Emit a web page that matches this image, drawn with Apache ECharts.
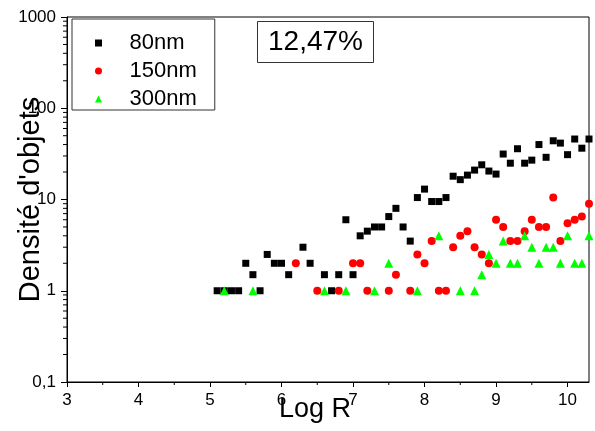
<!DOCTYPE html>
<html>
<head>
<meta charset="utf-8">
<script src="https://cdn.jsdelivr.net/npm/echarts@6/dist/echarts.min.js"></script>
<style>html,body{margin:0;padding:0;background:#fff}#c{width:595px;height:431px}</style>
</head>
<body>
<div id="c"></div>
<script>
// ---- data ----
const seriesNames = ['80nm', '150nm', '300nm'];
const x80 = [5.1,5.2,5.3,5.4,5.5,5.6,5.7,5.8,5.9,6.0,6.1,6.3,6.4,6.6,6.7,6.8,6.9,7.0,7.1,7.2,7.3,7.4,7.5,7.6,7.7,7.8,7.9,8.0,8.1,8.2,8.3,8.4,8.5,8.6,8.7,8.8,8.9,9.0,9.1,9.2,9.3,9.4,9.5,9.6,9.7,9.8,9.9,10.0,10.1,10.2,10.3];
const y80 = [1,1,1,1,2,1.5,1,2.5,2,2,1.5,3,2,1.5,1,1.5,6,1.5,4,4.5,5,5,6.5,8,5,3.5,10.5,13,9.5,9.5,10.5,18,16.5,18.5,21,24,20.5,19,31.5,25,36,25,27,40,29,44,41.5,31,46,36.5,46];
const x150 = [6.2,6.5,6.8,7.0,7.1,7.2,7.5,7.6,7.8,7.9,8.0,8.1,8.2,8.3,8.4,8.5,8.6,8.7,8.8,8.9,9.0,9.1,9.2,9.3,9.4,9.5,9.6,9.7,9.8,9.9,10.0,10.1,10.2,10.3];
const y150 = [2,1,1,2,2,1,1,1.5,1,2.5,2,3.5,1,1,3,4,4.5,3,2.5,2,6,5,3.5,3.5,4.5,6,5,5,10.5,3.5,5.5,6,6.5,9];
const x300 = [5.2,5.6,6.6,6.9,7.3,7.5,7.9,8.2,8.5,8.7,8.8,8.9,9.0,9.1,9.2,9.3,9.4,9.5,9.6,9.7,9.8,9.9,10.0,10.1,10.2,10.3];
const y300 = [1,1,1,1,1,2,1,4,1,1,1.5,2.5,2,3.5,2,2,4,3,2,3,3,2,4,2,2,4];
const xTicks = [3,4,5,6,7,8,9,10];
const xMinorTicks = [3.5,4.5,5.5,6.5,7.5,8.5,9.5];
const yTickValues = [0.1,1,10,100,1000];
const yTickLabels = ['0,1','1','10','100','1000'];
const yMinorTicks = [0.2,0.3,0.4,0.5,0.6,0.7,0.8,0.9,2,3,4,5,6,7,8,9,20,30,40,50,60,70,80,90,200,300,400,500,600,700,800,900];
const annotation = '12,47%';
const xTitle = 'Log R';
const yTitle = "Densité d'objets";

// ---- chart ----
const FONT = 'Liberation Sans, Arial, sans-serif';
const XMIN = 3, XMAX = 10.3, YMIN = 0.1, YMAX = 1000;
const zip = (xs, ys) => xs.map((x, i) => [x, ys[i]]);
const chart = echarts.init(document.getElementById('c'), null, {renderer: 'canvas'});

function tickSeries(data, horizontal, len) {
  return {
    type: 'custom', coordinateSystem: 'cartesian2d', silent: true, clip: false, z: 1,
    data: data,
    renderItem: (params, api) => {
      const p = api.coord([api.value(0), api.value(1)]);
      const shape = horizontal
        ? {x1: p[0] - len, y1: p[1], x2: p[0], y2: p[1]}
        : {x1: p[0], y1: p[1], x2: p[0], y2: p[1] + len};
      return {type: 'line', shape: shape, style: {stroke: '#000', lineWidth: 1}};
    }
  };
}

chart.setOption({
  animation: false,
  backgroundColor: '#fff',
  textStyle: {fontFamily: FONT},
  title: {
    text: annotation, left: 257, top: 21,
    padding: [7, 11, 7, 11], borderColor: '#333', borderWidth: 1,
    textStyle: {fontSize: 28, fontWeight: 'normal', color: '#000', fontFamily: FONT, lineHeight: 28}
  },
  legend: {
    orient: 'vertical', left: 72, top: 19,
    padding: [13, 18, 0, 23], itemGap: 6,
    itemWidth: 52, itemHeight: 7,
    borderColor: '#333', borderWidth: 1,
    textStyle: {fontSize: 22, color: '#000', fontFamily: FONT, lineHeight: 22},
    data: [
      {name: seriesNames[0], icon: 'path://M0,0L1,0L1,1L0,1Z'},
      {name: seriesNames[1], icon: 'circle'},
      {name: seriesNames[2], icon: 'path://M0.5,0L1,1L0,1Z'}
    ]
  },
  grid: {left: 67, right: 6, top: 17, bottom: 49, show: true, borderColor: '#000', borderWidth: 1, containLabel: false, outerBoundsMode: 'none'},
  xAxis: {
    type: 'value', min: XMIN, max: XMAX,
    name: xTitle, nameLocation: 'middle', nameGap: 14, nameMoveOverlap: false,
    nameTextStyle: {fontSize: 27, color: '#000', fontFamily: FONT, padding: [0, 26, 0, 0]},
    axisLine: {lineStyle: {color: '#000', width: 1}},
    axisTick: {length: 5, lineStyle: {color: '#000'}, customValues: xTicks},
    axisLabel: {fontSize: 17, color: '#000', margin: 10, customValues: xTicks},
    splitLine: {show: false}
  },
  yAxis: {
    type: 'log', logBase: 10, min: YMIN, max: YMAX,
    name: yTitle, nameLocation: 'middle', nameGap: 22, nameRotate: 90, nameMoveOverlap: false,
    nameTextStyle: {fontSize: 29, color: '#000', fontFamily: FONT},
    axisLine: {lineStyle: {color: '#000', width: 1}},
    axisTick: {length: 6, lineStyle: {color: '#000'}},
    axisLabel: {
      fontSize: 17, color: '#000', margin: 11,
      formatter: v => {
        const i = yTickValues.findIndex(t => Math.abs(Math.log10(t) - Math.log10(v)) < 1e-6);
        return i >= 0 ? yTickLabels[i] : '';
      }
    },
    splitLine: {show: false}
  },
  series: [
    tickSeries(yMinorTicks.map(v => [XMIN, v]), true, 4),
    tickSeries(xMinorTicks.map(v => [v, YMIN]), false, 3),
    {name: seriesNames[0], type: 'scatter', symbol: 'rect', symbolSize: 7, z: 3,
     itemStyle: {color: '#000000', opacity: 1}, data: zip(x80, y80)},
    {name: seriesNames[1], type: 'scatter', symbol: 'circle', symbolSize: 8, z: 4,
     itemStyle: {color: '#ff0000', opacity: 1}, data: zip(x150, y150)},
    {name: seriesNames[2], type: 'scatter', symbol: 'triangle', symbolSize: 9, z: 5,
     itemStyle: {color: '#00ff00', opacity: 1}, data: zip(x300, y300)}
  ]
});
</script>
</body>
</html>
